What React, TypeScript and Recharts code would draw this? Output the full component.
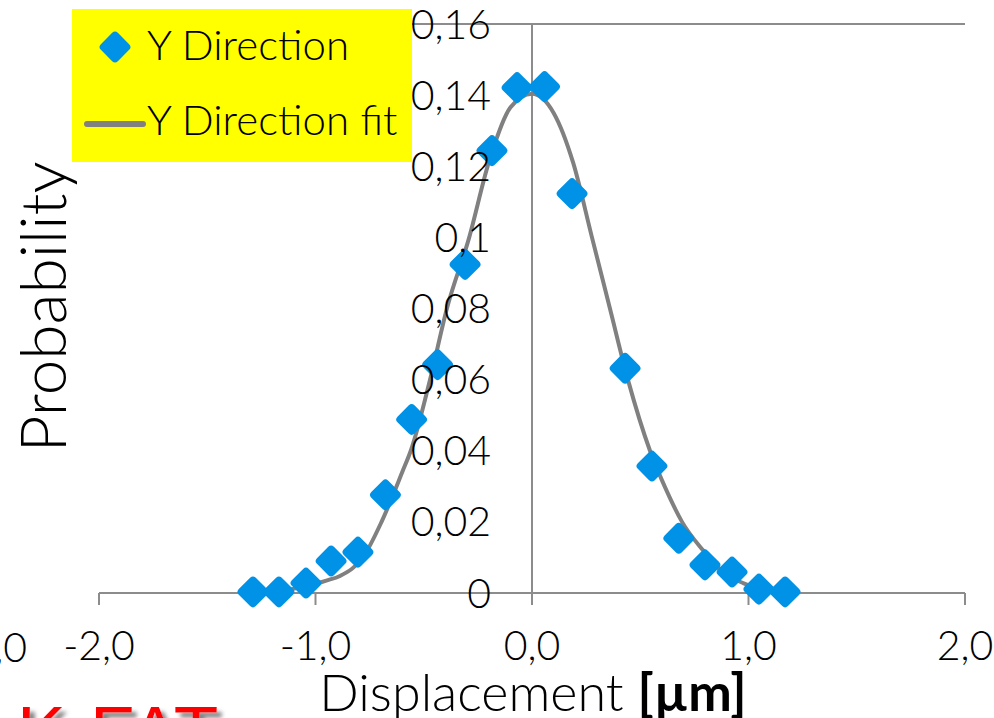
import React from 'react';
import { ComposedChart, Line, Scatter, XAxis, YAxis, CartesianGrid, ReferenceLine, ReferenceDot } from 'recharts';

// measured points: displacement [µm] and probability
const pointX = [-1.289, -1.169, -1.044, -0.928, -0.804, -0.677, -0.556, -0.436, -0.309, -0.185, -0.069, 0.058, 0.185, 0.43, 0.554, 0.678, 0.799, 0.924, 1.048, 1.169];
const pointY = [0.0003, 0.0003, 0.0028, 0.009, 0.0115, 0.0276, 0.0488, 0.0642, 0.0924, 0.1244, 0.1421, 0.1424, 0.1123, 0.0632, 0.0357, 0.0154, 0.0079, 0.0059, 0.0011, 0.0003];

// fit curve
const fitX = [-1.29, -1.17, -1.05, -0.95, -0.887, -0.78, -0.695, -0.596, -0.56, -0.471, -0.393, -0.29, -0.2, -0.1, 0, 0.1, 0.19, 0.277, 0.36, 0.443, 0.545, 0.62, 0.693, 0.79, 0.88, 0.975, 1.07, 1.17];
const fitY = [0.0002, 0.0006, 0.0018, 0.0035, 0.0048, 0.0101, 0.02, 0.0345, 0.04, 0.06, 0.08, 0.1, 0.121, 0.1365, 0.1404, 0.135, 0.121, 0.1, 0.08, 0.06, 0.04, 0.029, 0.02, 0.012, 0.006, 0.0028, 0.0012, 0.0004];

const xTicks = [-2, -1, 0, 1, 2];
const yTicks = [0, 0.02, 0.04, 0.06, 0.08, 0.1, 0.12, 0.14, 0.16];

const points = pointX.map((x, i) => ({ x, y: pointY[i] }));
const fit = fitX.map((x, i) => ({ x, y: fitY[i] }));

const font = "Lato, 'Open Sans', sans-serif";
const grey = '#8c8c8c';
const blue = '#0092e6';

// rounded diamond marker like the Excel one
const Diamond = (props: any) => {
  const { cx, cy } = props;
  return <rect x={cx - 12} y={cy - 12} width={24} height={24} rx={4} fill={blue} transform={`rotate(45 ${cx} ${cy})`} />;
};

const App = () => {
  return (
    <div style={{ position: 'absolute', left: 0, top: 0, width: 994, height: 718, overflow: 'hidden', background: '#fff' }}>
      <ComposedChart width={994} height={718} margin={{ top: 24, right: 29, bottom: 75, left: 99 }}>
        <CartesianGrid vertical={false} stroke={grey} strokeWidth={2} />
        <XAxis type='number' dataKey='x' domain={[-2, 2]} ticks={xTicks} height={50} tickSize={12} tickMargin={26}
          stroke={grey} strokeWidth={2}
          tick={{ fill: '#000', fontSize: 41, fontFamily: font, fontWeight: 300 }}
          tickFormatter={(v: number) => v.toFixed(1).replace('.', ',')} />
        <YAxis type='number' dataKey='y' domain={[0, 0.16]} ticks={yTicks} width={0} axisLine={false} tickLine={false} tick={false} />
        <ReferenceLine x={0} stroke={grey} strokeWidth={2} />
        {yTicks.map((t) => (
          <ReferenceDot key={t} x={0} y={t} r={0} stroke='none' fill='none'
            label={{ value: String(t).replace('.', ','), position: 'left', offset: 41, fill: '#000', fontSize: 41, fontFamily: font, fontWeight: 300 }} />
        ))}
        <Line data={fit} dataKey='y' type='monotone' stroke='#808080' strokeWidth={4} dot={false} isAnimationActive={false} />
        <Scatter data={points} dataKey='y' fill={blue} shape={Diamond} isAnimationActive={false} />
      </ComposedChart>
      <svg width={994} height={718} style={{ position: 'absolute', left: 0, top: 0, pointerEvents: 'none' }}>
        <defs>
          <filter id='kshadow' x='-10%' y='-10%' width='130%' height='150%'>
            <feDropShadow dx={5} dy={5} stdDeviation={2} floodColor='#808080' />
          </filter>
        </defs>
        {/* legend */}
        <rect x={72} y={9} width={340} height={153} fill='#ffff00' />
        <Diamond cx={115} cy={47} />
        <text x={147} y={60} fontSize={42} fontFamily={font} fontWeight={300}>Y Direction</text>
        <line x1={87} x2={143} y1={124} y2={124} stroke='#808080' strokeWidth={6} strokeLinecap='round' />
        <text x={147} y={135} fontSize={42} fontFamily={font} fontWeight={300}>Y Direction fit</text>
        {/* axis titles */}
        <text transform='translate(66 307) rotate(-90)' textAnchor='middle' fontSize={64} fontFamily={font} fontWeight={300}>Probability</text>
        <text x={533} y={711} textAnchor='middle' fontSize={52} fontFamily={font} fontWeight={300}>
          Displacement <tspan fontWeight={700}>[µm]</tspan>
        </text>
        {/* bits of the neighbouring chart at the left edge */}
        <text x={27} y={662} textAnchor='end' fontSize={41} fontFamily={font} fontWeight={300}>2,0</text>
        <text x={17} y={757} fontSize={73} fontFamily="'Liberation Sans', Arial, sans-serif" fill='#ff0000' filter='url(#kshadow)'>K-FAT</text>
      </svg>
    </div>
  );
};

export default App;
